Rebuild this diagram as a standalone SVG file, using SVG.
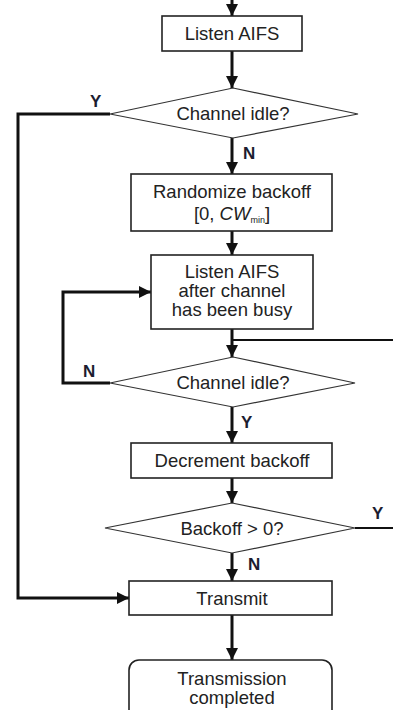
<svg xmlns="http://www.w3.org/2000/svg" width="393" height="710" viewBox="0 0 393 710">
<defs>
<marker id="ah" viewBox="0 0 12 12" refX="12" refY="6" markerWidth="12" markerHeight="12" markerUnits="userSpaceOnUse" orient="auto">
<path d="M0,0 L12,6 L0,12 Z" fill="#111"/>
</marker>
</defs>
<style>
.box{fill:#fff;stroke:#222;stroke-width:1.6}
.dia{fill:#fff;stroke:#333;stroke-width:1.2}
.t{font-family:"Liberation Sans",Arial,sans-serif;font-size:18.5px;fill:#222;text-anchor:middle}
.lb{font-family:"Liberation Sans",Arial,sans-serif;font-size:17px;font-weight:bold;fill:#1c1c30}
.c{fill:none;stroke:#111;stroke-width:3}
.c2{fill:none;stroke:#111;stroke-width:2}
</style>
<rect width="393" height="710" fill="#fff"/>
<g id="connectors">
<path class="c" d="M232,0 V16" marker-end="url(#ah)"/>
<path class="c" d="M232,51 V88" marker-end="url(#ah)"/>
<path class="c" d="M232,138 V174" marker-end="url(#ah)"/>
<path class="c" d="M232,231 V255" marker-end="url(#ah)"/>
<path class="c" d="M232,329 V357" marker-end="url(#ah)"/>
<path class="c2" d="M232,340 H393"/>
<path class="c" d="M110,383 H63 V292 H151" marker-end="url(#ah)"/>
<path class="c" d="M232,407 V443" marker-end="url(#ah)"/>
<path class="c" d="M232,478 V503" marker-end="url(#ah)"/>
<path class="c2" d="M355,528 H393"/>
<path class="c" d="M232,553 V581" marker-end="url(#ah)"/>
<path class="c" d="M110,114 H18 V598 H129" marker-end="url(#ah)"/>
<path class="c" d="M232,615 V660" marker-end="url(#ah)"/>
</g>
<g id="listen1">
<rect class="box" x="162" y="16" width="140" height="35"/>
<text class="t" x="232" y="40">Listen AIFS</text>
</g>
<g id="idle1">
<polygon class="dia" points="233,88 358,114 233,138 110,114"/>
<text class="t" x="233" y="120">Channel idle?</text>
</g>
<g id="randomize">
<rect class="box" x="131" y="174" width="201" height="57"/>
<text class="t" x="232" y="198">Randomize backoff</text>
<text class="t" x="232" y="220">[0, <tspan font-style="italic">CW</tspan><tspan font-size="9" dy="3">min</tspan><tspan dy="-3">]</tspan></text>
</g>
<g id="listen2">
<rect class="box" x="151" y="255" width="162" height="74"/>
<text class="t" x="232" y="278">Listen AIFS</text>
<text class="t" x="232" y="297">after channel</text>
<text class="t" x="232" y="316">has been busy</text>
</g>
<g id="idle2">
<polygon class="dia" points="233,357 355,383 233,407 110,383"/>
<text class="t" x="233" y="389">Channel idle?</text>
</g>
<g id="decrement">
<rect class="box" x="131" y="443" width="201" height="35"/>
<text class="t" x="232" y="467">Decrement backoff</text>
</g>
<g id="backoff">
<polygon class="dia" points="232,503 355,528 232,553 105,528"/>
<text class="t" x="232" y="535">Backoff &gt; 0?</text>
</g>
<g id="transmit">
<rect class="box" x="129" y="581" width="203" height="34"/>
<text class="t" x="232" y="605">Transmit</text>
</g>
<g id="completed">
<rect class="box" x="129" y="660" width="203" height="70" rx="10" stroke="#444"/>
<text class="t" x="232" y="685">Transmission</text>
<text class="t" x="232" y="704">completed</text>
</g>
<g id="labels">
<text class="lb" x="90" y="107">Y</text>
<text class="lb" x="243" y="159">N</text>
<text class="lb" x="83" y="377">N</text>
<text class="lb" x="241" y="428">Y</text>
<text class="lb" x="372" y="519">Y</text>
<text class="lb" x="248" y="570">N</text>
</g>
</svg>
